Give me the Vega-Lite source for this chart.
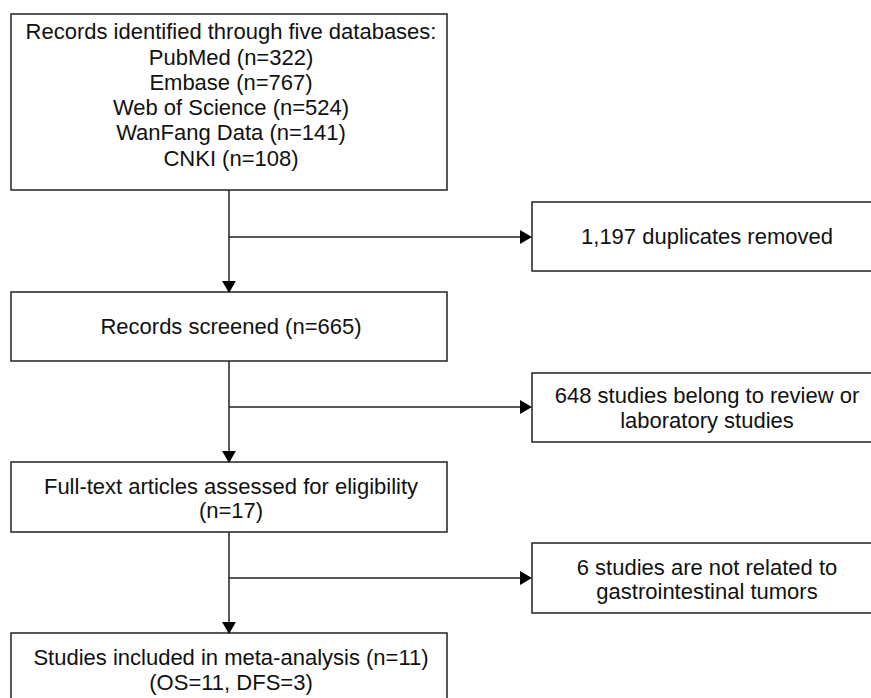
{
  "$schema": "https://vega.github.io/schema/vega-lite/v6.json",
  "width": 871,
  "height": 698,
  "autosize": {"type": "fit", "contains": "padding"},
  "padding": 0,
  "background": "white",
  "config": {"view": {"stroke": null}},
  "datasets": {
    "boxes": [
      {"id": "identified", "x1": 11, "x2": 447, "y1": 14, "y2": 190},
      {"id": "duplicates", "x1": 532, "x2": 885, "y1": 202, "y2": 271},
      {"id": "screened", "x1": 11, "x2": 447, "y1": 292, "y2": 361},
      {"id": "review", "x1": 532, "x2": 885, "y1": 373, "y2": 442},
      {"id": "fulltext", "x1": 11, "x2": 447, "y1": 462, "y2": 532},
      {"id": "notrelated", "x1": 532, "x2": 885, "y1": 543, "y2": 613},
      {"id": "included", "x1": 11, "x2": 447, "y1": 633, "y2": 712}
    ],
    "links": [
      {"x1": 229, "x2": 229, "y1": 190, "y2": 286},
      {"x1": 229, "x2": 525, "y1": 237, "y2": 237},
      {"x1": 229, "x2": 229, "y1": 361, "y2": 456},
      {"x1": 229, "x2": 525, "y1": 407, "y2": 407},
      {"x1": 229, "x2": 229, "y1": 532, "y2": 627},
      {"x1": 229, "x2": 525, "y1": 578, "y2": 578}
    ],
    "heads": [
      {"x": 229, "y": 287, "dir": "down"},
      {"x": 526, "y": 237, "dir": "right"},
      {"x": 229, "y": 457, "dir": "down"},
      {"x": 526, "y": 407, "dir": "right"},
      {"x": 229, "y": 628, "dir": "down"},
      {"x": 526, "y": 578, "dir": "right"}
    ],
    "labels": [
      {"x": 231, "y": 32, "label": "Records identified through five databases:"},
      {"x": 231, "y": 58, "label": "PubMed (n=322)"},
      {"x": 231, "y": 83, "label": "Embase (n=767)"},
      {"x": 231, "y": 108, "label": "Web of Science (n=524)"},
      {"x": 231, "y": 133, "label": "WanFang Data (n=141)"},
      {"x": 231, "y": 159, "label": "CNKI (n=108)"},
      {"x": 707, "y": 237, "label": "1,197 duplicates removed"},
      {"x": 231, "y": 327, "label": "Records screened (n=665)"},
      {"x": 707, "y": 396, "label": "648 studies belong to review or"},
      {"x": 707, "y": 421, "label": "laboratory studies"},
      {"x": 231, "y": 487, "label": "Full-text articles assessed for eligibility"},
      {"x": 231, "y": 511, "label": "(n=17)"},
      {"x": 707, "y": 568, "label": "6 studies are not related to"},
      {"x": 707, "y": 592, "label": "gastrointestinal tumors"},
      {"x": 231, "y": 658, "label": "Studies included in meta-analysis (n=11)"},
      {"x": 231, "y": 683, "label": "(OS=11, DFS=3)"}
    ]
  },
  "layer": [
    {
      "data": {"name": "boxes"},
      "mark": {"type": "rect", "fill": "white", "stroke": "#222222", "strokeWidth": 1.5, "clip": true},
      "encoding": {
        "x": {"field": "x1", "type": "quantitative", "scale": {"domain": [0, 871], "nice": false, "zero": false}, "axis": null},
        "x2": {"field": "x2"},
        "y": {"field": "y1", "type": "quantitative", "scale": {"domain": [0, 698], "reverse": true, "nice": false, "zero": false}, "axis": null},
        "y2": {"field": "y2"}
      }
    },
    {
      "data": {"name": "links"},
      "mark": {"type": "rule", "stroke": "#222222", "strokeWidth": 1.5},
      "encoding": {
        "x": {"field": "x1", "type": "quantitative", "scale": {"domain": [0, 871], "nice": false, "zero": false}, "axis": null},
        "x2": {"field": "x2"},
        "y": {"field": "y1", "type": "quantitative", "scale": {"domain": [0, 698], "reverse": true, "nice": false, "zero": false}, "axis": null},
        "y2": {"field": "y2"}
      }
    },
    {
      "data": {"name": "heads"},
      "mark": {"type": "point", "filled": true, "color": "#000000", "size": 190, "opacity": 1},
      "encoding": {
        "x": {"field": "x", "type": "quantitative", "scale": {"domain": [0, 871], "nice": false, "zero": false}, "axis": null},
        "y": {"field": "y", "type": "quantitative", "scale": {"domain": [0, 698], "reverse": true, "nice": false, "zero": false}, "axis": null},
        "shape": {"field": "dir", "type": "nominal", "scale": {"domain": ["down", "right"], "range": ["triangle-down", "triangle-right"]}, "legend": null}
      }
    },
    {
      "data": {"name": "labels"},
      "mark": {"type": "text", "font": "Liberation Sans", "fontSize": 22, "color": "#111111", "align": "center", "baseline": "middle"},
      "encoding": {
        "x": {"field": "x", "type": "quantitative", "scale": {"domain": [0, 871], "nice": false, "zero": false}, "axis": null},
        "y": {"field": "y", "type": "quantitative", "scale": {"domain": [0, 698], "reverse": true, "nice": false, "zero": false}, "axis": null},
        "text": {"field": "label", "type": "nominal"}
      }
    }
  ]
}
